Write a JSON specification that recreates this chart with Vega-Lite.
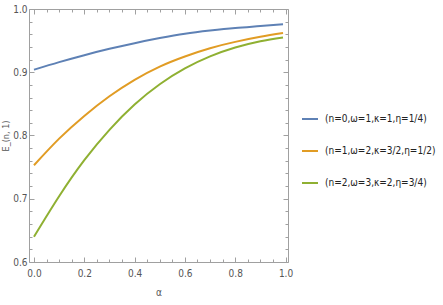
{
  "$schema": "https://vega.github.io/schema/vega-lite/v6.json",
  "autosize": {"type": "none"},
  "padding": {"left": 29, "top": 9, "right": 155, "bottom": 43},
  "width": 259,
  "height": 253,
  "background": "white",
  "config": {
    "view": {"stroke": null},
    "font": "DejaVu Sans Condensed",
    "axis": {
      "domainColor": "#a0a0a0",
      "tickColor": "#a0a0a0",
      "labelColor": "#555555",
      "titleColor": "#555555",
      "labelFont": "DejaVu Sans Condensed",
      "titleFont": "DejaVu Sans Condensed",
      "labelFontSize": 10,
      "titleFontSize": 9,
      "titleFontWeight": "normal",
      "grid": false
    }
  },
  "data": {
    "values": [
      {"s": "(n=0,ω=1,κ=1,η=1/4)", "a": 0.0, "v": 0.904},
      {"s": "(n=0,ω=1,κ=1,η=1/4)", "a": 0.1, "v": 0.916},
      {"s": "(n=0,ω=1,κ=1,η=1/4)", "a": 0.2, "v": 0.927},
      {"s": "(n=0,ω=1,κ=1,η=1/4)", "a": 0.3, "v": 0.937},
      {"s": "(n=0,ω=1,κ=1,η=1/4)", "a": 0.4, "v": 0.946},
      {"s": "(n=0,ω=1,κ=1,η=1/4)", "a": 0.5, "v": 0.954},
      {"s": "(n=0,ω=1,κ=1,η=1/4)", "a": 0.6, "v": 0.961},
      {"s": "(n=0,ω=1,κ=1,η=1/4)", "a": 0.7, "v": 0.966},
      {"s": "(n=0,ω=1,κ=1,η=1/4)", "a": 0.8, "v": 0.970},
      {"s": "(n=0,ω=1,κ=1,η=1/4)", "a": 0.9, "v": 0.973},
      {"s": "(n=0,ω=1,κ=1,η=1/4)", "a": 0.99, "v": 0.976},
      {"s": "(n=1,ω=2,κ=3/2,η=1/2)", "a": 0.0, "v": 0.753},
      {"s": "(n=1,ω=2,κ=3/2,η=1/2)", "a": 0.1, "v": 0.795},
      {"s": "(n=1,ω=2,κ=3/2,η=1/2)", "a": 0.2, "v": 0.831},
      {"s": "(n=1,ω=2,κ=3/2,η=1/2)", "a": 0.3, "v": 0.862},
      {"s": "(n=1,ω=2,κ=3/2,η=1/2)", "a": 0.4, "v": 0.888},
      {"s": "(n=1,ω=2,κ=3/2,η=1/2)", "a": 0.5, "v": 0.909},
      {"s": "(n=1,ω=2,κ=3/2,η=1/2)", "a": 0.6, "v": 0.925},
      {"s": "(n=1,ω=2,κ=3/2,η=1/2)", "a": 0.7, "v": 0.938},
      {"s": "(n=1,ω=2,κ=3/2,η=1/2)", "a": 0.8, "v": 0.948},
      {"s": "(n=1,ω=2,κ=3/2,η=1/2)", "a": 0.9, "v": 0.956},
      {"s": "(n=1,ω=2,κ=3/2,η=1/2)", "a": 0.99, "v": 0.962},
      {"s": "(n=2,ω=3,κ=2,η=3/4)", "a": 0.0, "v": 0.640},
      {"s": "(n=2,ω=3,κ=2,η=3/4)", "a": 0.1, "v": 0.704},
      {"s": "(n=2,ω=3,κ=2,η=3/4)", "a": 0.2, "v": 0.761},
      {"s": "(n=2,ω=3,κ=2,η=3/4)", "a": 0.3, "v": 0.809},
      {"s": "(n=2,ω=3,κ=2,η=3/4)", "a": 0.4, "v": 0.849},
      {"s": "(n=2,ω=3,κ=2,η=3/4)", "a": 0.5, "v": 0.881},
      {"s": "(n=2,ω=3,κ=2,η=3/4)", "a": 0.6, "v": 0.906},
      {"s": "(n=2,ω=3,κ=2,η=3/4)", "a": 0.7, "v": 0.925},
      {"s": "(n=2,ω=3,κ=2,η=3/4)", "a": 0.8, "v": 0.939},
      {"s": "(n=2,ω=3,κ=2,η=3/4)", "a": 0.9, "v": 0.949},
      {"s": "(n=2,ω=3,κ=2,η=3/4)", "a": 0.99, "v": 0.955}
    ]
  },
  "resolve": {"axis": {"x": "independent", "y": "independent"}},
  "layer": [
    {
      "mark": {"type": "line", "interpolate": "natural", "strokeWidth": 2},
      "encoding": {
        "x": {
          "field": "a", "type": "quantitative",
          "scale": {"domain": [-0.0198, 1.0098], "nice": false, "zero": false},
          "axis": {
            "orient": "bottom", "title": "α", "titleFontSize": 10, "titlePadding": 7,
            "values": [0,0.05,0.1,0.15,0.2,0.25,0.3,0.35,0.4,0.45,0.5,0.55,0.6,0.65,0.7,0.75,0.8,0.85,0.9,0.95,1.0],
            "labelExpr": "round(datum.value*100)%20==0 ? format(datum.value,'.1f') : ''",
            "tickSize": {"condition": {"test": "round(datum.value*100)%20==0", "value": -5}, "value": -3},
            "labelPadding": 11, "labelFlush": false, "labelOverlap": false
          }
        },
        "y": {
          "field": "v", "type": "quantitative",
          "scale": {"domain": [0.6, 1.0], "nice": false, "zero": false},
          "axis": {
            "orient": "left", "title": "E_(n, 1)", "titlePadding": 2,
            "values": [0.6,0.62,0.64,0.66,0.68,0.7,0.72,0.74,0.76,0.78,0.8,0.82,0.84,0.86,0.88,0.9,0.92,0.94,0.96,0.98,1.0],
            "labelExpr": "round(datum.value*100)%10==0 ? format(datum.value,'.1f') : ''",
            "tickSize": {"condition": {"test": "round(datum.value*100)%10==0", "value": -5}, "value": -3},
            "labelPadding": 7, "labelFlush": false, "labelOverlap": false
          }
        },
        "color": {
          "field": "s", "type": "nominal",
          "scale": {
            "domain": ["(n=0,ω=1,κ=1,η=1/4)", "(n=1,ω=2,κ=3/2,η=1/2)", "(n=2,ω=3,κ=2,η=3/4)"],
            "range": ["#5E81B5", "#E19C24", "#8FB032"]
          },
          "legend": {
            "title": null, "orient": "none", "legendX": 272, "legendY": 101,
            "symbolType": "stroke", "symbolSize": 256, "symbolStrokeWidth": 2,
            "labelFontSize": 10, "labelColor": "#222222", "labelFont": "DejaVu Sans Condensed",
            "rowPadding": 18, "labelOffset": 6
          }
        }
      }
    },
    {
      "mark": {"type": "line", "opacity": 0},
      "encoding": {
        "x": {
          "field": "a", "type": "quantitative",
          "axis": {
            "orient": "top", "title": null, "labels": false,
            "values": [0,0.05,0.1,0.15,0.2,0.25,0.3,0.35,0.4,0.45,0.5,0.55,0.6,0.65,0.7,0.75,0.8,0.85,0.9,0.95,1.0],
            "tickSize": {"condition": {"test": "round(datum.value*100)%20==0", "value": -5}, "value": -3}
          }
        },
        "y": {
          "field": "v", "type": "quantitative",
          "axis": {
            "orient": "right", "title": null, "labels": false,
            "values": [0.6,0.62,0.64,0.66,0.68,0.7,0.72,0.74,0.76,0.78,0.8,0.82,0.84,0.86,0.88,0.9,0.92,0.94,0.96,0.98,1.0],
            "tickSize": {"condition": {"test": "round(datum.value*100)%10==0", "value": -5}, "value": -3}
          }
        },
        "detail": {"field": "s"}
      }
    }
  ]
}
